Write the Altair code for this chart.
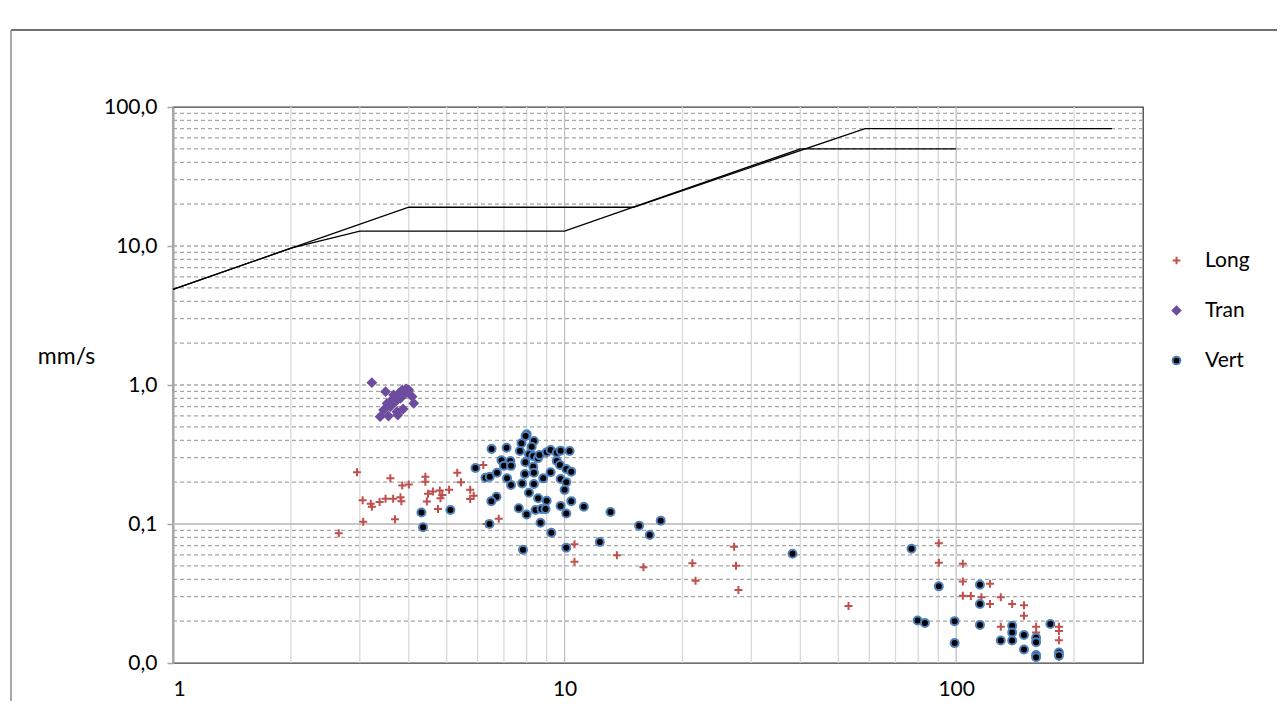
import altair as alt
import pandas as pd

FONT = "Lato"

# ---------------- data ----------------
series_names = ["Long", "Tran", "Vert"]

long_f = [2.95, 3.59, 3.05, 3.20, 3.22, 3.37, 3.49, 3.65, 3.81, 3.83, 3.85, 4.00, 4.41, 4.41,
          4.45, 4.48, 4.61, 4.80, 4.82, 5.07, 4.75, 3.06, 3.69, 2.65, 5.32, 6.20, 5.44, 4.87,
          5.74, 5.86, 5.74, 6.79, 6.32, 10.6, 10.6, 13.6, 15.9, 21.2, 21.6, 27.1, 27.4, 27.8,
          53.1, 90.3, 90.3, 104, 104, 104, 109, 116, 122, 122, 130, 130, 139, 149, 149, 160,
          160, 183, 183, 183, 183]
long_v = [0.236, 0.213, 0.148, 0.140, 0.133, 0.144, 0.152, 0.152, 0.156, 0.146, 0.189, 0.192,
          0.219, 0.201, 0.145, 0.165, 0.171, 0.174, 0.153, 0.176, 0.128, 0.104, 0.108, 0.0857,
          0.234, 0.266, 0.200, 0.162, 0.176, 0.160, 0.151, 0.109, 0.100, 0.0714, 0.0536, 0.0595,
          0.0488, 0.0521, 0.0391, 0.0687, 0.0501, 0.0335, 0.0257, 0.0727, 0.0527, 0.0518, 0.0385,
          0.0305, 0.0303, 0.0297, 0.0372, 0.0266, 0.0297, 0.0182, 0.0266, 0.0260, 0.0219, 0.0182,
          0.0166, 0.0182, 0.0170, 0.0146, 0.0111]

tran_f = [3.22, 3.49, 3.94, 3.66, 3.77, 3.85, 4.00, 3.59, 3.70, 3.81, 4.08, 4.12, 3.52, 3.45,
          3.38, 3.55, 3.73, 3.75, 3.87, 3.66, 3.59, 3.92]
tran_v = [1.04, 0.895, 0.936, 0.848, 0.871, 0.921, 0.921, 0.759, 0.759, 0.802, 0.824, 0.738,
          0.738, 0.661, 0.592, 0.598, 0.643, 0.608, 0.672, 0.802, 0.698, 0.871]

vert_f = [4.31, 4.35, 5.11, 8.0, 7.95, 8.35, 7.76, 8.24, 6.51, 7.11, 7.69, 8.11, 8.32, 8.55,
          8.63, 9.0, 9.21, 9.55, 9.77, 10.3, 6.90, 7.27, 7.0, 7.30, 7.94, 8.32, 9.55, 9.73,
          10.1, 10.4, 5.92, 6.28, 6.44, 6.72, 7.13, 7.30, 7.79, 7.92, 8.35, 8.35, 8.11, 8.82,
          9.21, 9.77, 10.1, 10.0, 6.70, 6.50, 8.56, 9.0, 10.4, 7.64, 8.43, 8.73, 8.94, 9.77,
          11.2, 8.0, 10.1, 13.1, 6.43, 8.68, 9.25, 15.5, 17.6, 16.5, 12.3, 10.1, 7.83,
          38.2, 76.9, 90.3, 79.7, 83.2, 99.1, 99.1, 115, 115, 115, 130, 139, 139, 139, 149,
          149, 160, 160, 160, 160, 174, 183, 183]
vert_v = [0.121, 0.0947, 0.126, 0.442, 0.430, 0.396, 0.381, 0.360, 0.347, 0.354, 0.335, 0.317,
          0.308, 0.297, 0.313, 0.328, 0.341, 0.326, 0.337, 0.335, 0.287, 0.284, 0.263, 0.262,
          0.278, 0.258, 0.284, 0.266, 0.249, 0.238, 0.253, 0.215, 0.219, 0.234, 0.213, 0.191,
          0.196, 0.229, 0.234, 0.194, 0.168, 0.213, 0.236, 0.211, 0.200, 0.176, 0.157, 0.146,
          0.153, 0.147, 0.146, 0.130, 0.126, 0.128, 0.128, 0.135, 0.133, 0.117, 0.119, 0.122,
          0.100, 0.102, 0.0866, 0.0973, 0.1057, 0.0834, 0.0743, 0.0676, 0.0653,
          0.0611, 0.0664, 0.0356, 0.0202, 0.0194, 0.0200, 0.0139, 0.0366, 0.0266, 0.0188,
          0.0145, 0.0185, 0.0166, 0.0145, 0.0159, 0.0125, 0.0152, 0.0141, 0.0114, 0.0110,
          0.0191, 0.0119, 0.0113]

# limit curves
limit1_f = [1, 2, 3, 10, 40, 100]
limit1_v = [4.88, 9.64, 12.8, 12.8, 50, 50]
limit2_f = [1, 4, 15, 58.5, 250]
limit2_v = [4.88, 19.0, 19.0, 70, 70]

# grid / tick values
x_tick_vals = [1, 10, 100]
y_tick_vals = [0.01, 0.1, 1, 10, 100]
x_grid_minor = [2, 3, 4, 5, 6, 7, 8, 9, 20, 30, 40, 50, 60, 70, 80, 90, 200]
x_grid_major = [10, 100]
y_grid_dashed = [0.02, 0.03, 0.04, 0.05, 0.06, 0.07, 0.08, 0.09,
                 0.2, 0.3, 0.4, 0.5, 0.6, 0.7, 0.8, 0.9, 1,
                 2, 3, 4, 5, 6, 7, 8, 9, 10,
                 20, 30, 40, 50, 60, 70, 80, 90]
y_grid_solid = [0.1]

# ---------------- tables ----------------
rows = []
for name, fs, vs in [("Long", long_f, long_v), ("Tran", tran_f, tran_v), ("Vert", vert_f, vert_v)]:
    for f, v in zip(fs, vs):
        rows.append({"f": f, "v": v, "series": name})
df = pd.DataFrame(rows)
df["ord"] = range(len(df))

lrows = []
for lid, fs, vs in [("L1", limit1_f, limit1_v), ("L2", limit2_f, limit2_v)]:
    for i, (f, v) in enumerate(zip(fs, vs)):
        lrows.append({"f": f, "v": v, "line": lid, "i": i})
ldf = pd.DataFrame(lrows)

W, H = 970, 556
xs = alt.Scale(type="log", domain=[1, 300], nice=False)
ys = alt.Scale(type="log", domain=[0.01, 100], nice=False)

x_axis = alt.Axis(values=x_tick_vals, labelExpr="format(datum.value, 'd')",
                  grid=False, ticks=False, domain=False, labelPadding=15,
                  labelFont=FONT, labelFontSize=21, labelColor="black")
y_axis = alt.Axis(values=y_tick_vals,
                  labelExpr="replace(format(datum.value, '.1f'), '.', ',')",
                  grid=False, tickSize=6, tickColor="#a6a6a6", tickWidth=1.5,
                  domainColor="#a6a6a6", domainWidth=2, labelPadding=10,
                  labelFont=FONT, labelFontSize=21, labelColor="black",
                  titleAngle=0, titleX=-107, titleY=249, titleAlign="center",
                  titleBaseline="middle", titleFont=FONT, titleFontSize=23,
                  titleFontWeight="normal", titleColor="black")

X = alt.X("f:Q", scale=xs, title=None, axis=x_axis)
Y = alt.Y("v:Q", scale=ys, title="mm/s", axis=y_axis)

one = pd.DataFrame({"a": [0]})
frame_top = alt.Chart(one).mark_rule(stroke="#404040", strokeWidth=1.5).encode(
    x=alt.value(-162), x2=alt.value(1400), y=alt.value(-77))
frame_left = alt.Chart(one).mark_rule(stroke="#8a8a8a", strokeWidth=1.5).encode(
    x=alt.value(-162), y=alt.value(-77), y2=alt.value(800))

vgrid_minor = alt.Chart(pd.DataFrame({"f": x_grid_minor})).mark_rule(
    color="#d9d9d9", strokeWidth=1.3
).encode(x=X)

vgrid_major = alt.Chart(pd.DataFrame({"f": x_grid_major})).mark_rule(
    color="#c0c0c0", strokeWidth=1.3
).encode(x=X)

hgrid_dash = alt.Chart(pd.DataFrame({"v": y_grid_dashed})).mark_rule(
    color="#a6a6a6", strokeWidth=1.3, strokeDash=[4, 3]
).encode(y=Y)

hgrid_solid = alt.Chart(pd.DataFrame({"v": y_grid_solid})).mark_rule(
    color="#b5b5b5", strokeWidth=1.3
).encode(y=Y)

limits = alt.Chart(ldf).mark_line(color="black", strokeWidth=1.3).encode(
    x=X, y=Y, detail="line:N", order="i:Q",
)

plus_path = "M-1,0H1M0,-1V1"
leg = alt.Legend(
    title=None, orient="none", legendX=993, legendY=143,
    labelFont=FONT, labelFontSize=21, labelColor="black", labelOffset=18,
    rowPadding=28, symbolSize=60, symbolStrokeWidth=2, padding=0,
)

points = alt.Chart(df).mark_point(filled=True, opacity=1, strokeWidth=2, size=64).encode(
    x=X, y=Y,
    shape=alt.Shape("series:N", scale=alt.Scale(domain=series_names,
                                                range=[plus_path, "diamond", "circle"]),
                    legend=leg),
    fill=alt.Fill("series:N", scale=alt.Scale(domain=series_names,
                                              range=["#C0504D", "#6E4C9E", "#000000"]),
                  legend=leg),
    stroke=alt.Stroke("series:N", scale=alt.Scale(domain=series_names,
                                                  range=["#C0504D", "#6E4C9E", "#4F81BD"]),
                      legend=leg),
    order=alt.Order("ord:Q"),
)

chart = alt.layer(
    frame_top, frame_left, vgrid_minor, vgrid_major, hgrid_dash, hgrid_solid, limits, points
).properties(
    width=W, height=H,
    autosize=alt.AutoSizeParams(type="none"),
    padding={"left": 165, "top": 99, "right": 134, "bottom": 38},
    background="white",
).configure_view(
    stroke="#404040", strokeWidth=1.3
)

chart.save("out.html", embed_options={"renderer": "svg", "actions": False})
